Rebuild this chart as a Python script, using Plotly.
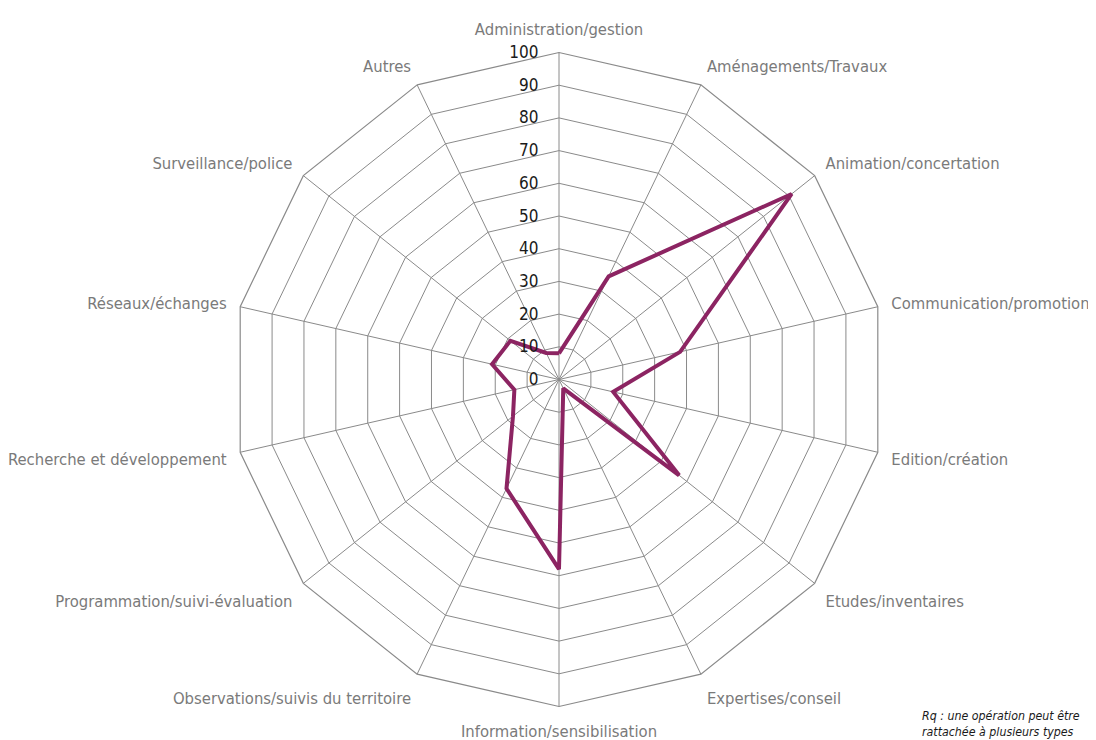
import plotly.graph_objects as go

categories = [
    "Administration/gestion", "Aménagements/Travaux", "Animation/concertation",
    "Communication/promotion", "Edition/création", "Etudes/inventaires",
    "Expertises/conseil", "Information/sensibilisation",
    "Observations/suivis du territoire", "Programmation/suivi-évaluation",
    "Recherche et développement", "Réseaux/échanges", "Surveillance/police", "Autres",
]
values = [8, 35, 91, 38, 17, 47, 3, 58, 37, 18, 14, 21, 19, 9]
radial_ticks = [0, 10, 20, 30, 40, 50, 60, 70, 80, 90, 100]

FONT = "DejaVu Sans Condensed, Liberation Sans Narrow, Roboto Condensed, Arial Narrow, DejaVu Sans, sans-serif"

fig = go.Figure()
fig.add_trace(go.Scatterpolar(
    r=values + values[:1],
    theta=categories + categories[:1],
    mode="lines",
    line=dict(color="#8c2462", width=4),
    showlegend=False,
    hoverinfo="skip",
))

fig.update_layout(
    width=1096, height=740,
    margin=dict(l=0, r=0, t=0, b=0),
    paper_bgcolor="white",
    plot_bgcolor="white",
    polar=dict(
        domain=dict(x=[224/1096, 878/1096], y=[41.5/740, 695.5/740]),
        gridshape="linear",
        bgcolor="white",
        radialaxis=dict(
            range=[0, 100], tickvals=radial_ticks, ticktext=[str(t) for t in radial_ticks],
            angle=90, side="counterclockwise", showline=False, tickangle=90,
            gridcolor="#8a8a8a", gridwidth=1.2,
            ticks="outside", ticklen=14, tickcolor="rgba(0,0,0,0)",
            tickfont=dict(family=FONT, size=17, color="#1a1a1a"),
        ),
        angularaxis=dict(
            rotation=90, direction="clockwise",
            gridcolor="#8a8a8a", gridwidth=1.2,
            linecolor="#8a8a8a", linewidth=1.2, showline=True,
            ticks="outside", ticklen=10, tickcolor="rgba(0,0,0,0)",
            tickfont=dict(family=FONT, size=16.5, color="#7a7a7a"),
        ),
    ),
    annotations=[dict(
        x=912/1096, y=1-699/740, xref="paper", yref="paper",
        xanchor="left", yanchor="top", align="left", showarrow=False,
        text="<i>Rq : une opération peut être<br>rattachée à plusieurs types</i>",
        font=dict(family=FONT, size=12.3, color="#1a1a1a"),
    )],
)

fig.write_html("out.html")
